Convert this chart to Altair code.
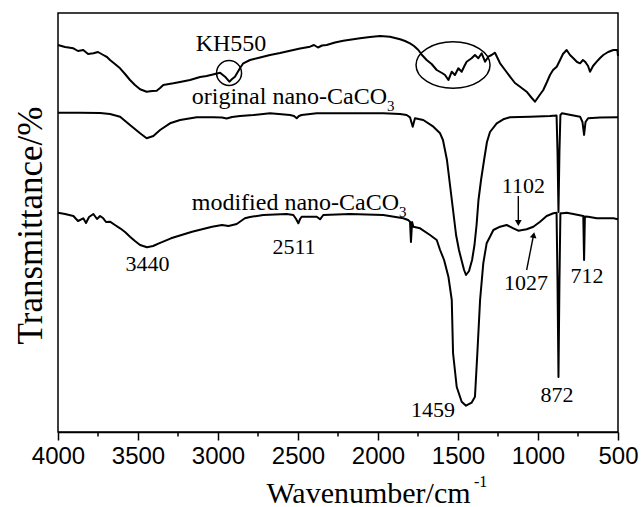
import altair as alt
import pandas as pd

# ---------------- data (wavenumber in cm-1, transmittance in a.u. with offsets) -------------
kh_wn = [4000,3956,3904,3875,3842,3812,3779,3750,3717,3694,
         3675,3644,3612,3581,3550,3519,3487,3446,3412,3383,
         3362,3342,3279,3237,3175,3112,3071,3019,2987,2956,
         2929,2912,2894,2862,2842,2800,2737,2675,2612,2550,
         2487,2425,2400,2375,2350,2321,2269,2217,2112,2050,
         1987,1925,1862,1831,1800,1775,1748,1725,1696,1665,
         1633,1600,1581,1560,1539,1519,1498,1477,1460,1446,
         1415,1394,1373,1352,1331,1310,1290,1269,1237,1206,
         1175,1144,1112,1071,1044,1019,994,967,944,925,
         906,883,862,844,821,800,779,756,737,719,
         706,687,675,656,633,612,592,562,529,504,
         500]
kh_t = [387,385,383.7,381,382,378,378.7,380,377,375,
        372,368,363.7,358,352,347,342.7,340.3,341,341.3,
        344,347,348.7,350,352,355,356,358,359.3,355.3,
        350.3,353,355.3,364,368.7,372,374.5,377,379,381.3,
        383.5,385.3,387,384.5,386.5,387,389.5,391.3,393.7,395,
        396,395.3,392.7,391,388.7,386,382,377,372,368,
        362,359,357,352,360.3,357,363.7,360.3,366,370.3,
        373.7,377,373.7,378.7,370.3,375.3,377,379.3,368.7,362,
        355.3,349,345.3,340.3,335,330.3,336,342,350,357,
        362,365.3,372,378,382,377,373.7,370,368.7,372,
        370.3,366,360.3,366,370.3,374,377,380,382,382,
        376]

orig_wn = [4000,3862,3737,3675,3612,3550,3487,3446,3404,3362,
           3300,3237,3133,3029,2975,2946,2912,2862,2779,2675,
           2550,2525,2508,2494,2477,2383,2175,1967,1862,1821,
           1800,1783,1769,1717,1654,1612,1594,1569,1550,1531,
           1512,1494,1475,1462,1450,1431,1412,1397,1384,1372,
           1356,1337,1319,1300,1258,1217,1175,1050,925,884,
           878,872,866,860,850,794,737,722,712,703,
           687,612,500]
orig_t = [319.3,319.3,319,318,315.3,307,298.7,293.7,296,302,
          308.7,312,314.7,314.7,314.5,313.5,315,316,317,318.7,
          317,316,313.7,316,317,318.7,318.7,318.7,318,317,
          314.7,305.3,313.7,312,305.3,298.7,292,272,247,222,
          197,182,170,162,157,161,172,187,207,232,
          252,272,290,300,308.7,312.7,314.7,315.3,316,316.5,
          280,220,280,317,318.7,317,315.3,310,297,310,
          313.7,314.5,314.7]

mod_wn = [4000,3956,3904,3875,3842,3825,3806,3779,3756,3737,
          3717,3700,3675,3644,3612,3581,3550,3519,3487,3444,
          3406,3369,3294,3162,3037,2975,2934,2883,2832,2800,
          2717,2571,2529,2512,2498,2487,2477,2383,2362,2342,
          2175,1967,1842,1812,1800,1794,1787,1779,1737,1675,
          1633,1612,1587,1560,1539,1531,1508,1477,1450,1415,
          1394,1379,1362,1342,1321,1300,1279,1237,1196,1154,
          1123,1071,1029,987,946,904,884,878,872,866,
          860,846,821,779,717,712,707,686,633,529,
          500]
mod_t = [219.3,218,216,211,213.7,209,215,218,213,216,
         213.7,210,210.3,207,203.7,200,195.3,191,187,184.7,
         186,188.7,193.7,200.3,205.3,207,206,208,213.7,215,
         217,218,217,213,208.7,213,215.3,215.3,212.7,217,
         218,217,213.7,212,210.3,190,210,205.3,203.7,197,
         192,182,172,155.3,132,79,45,30.3,26.3,29.3,
         35.3,79,132,168.7,188.7,195.3,202,205.3,207,203.7,
         201.3,202.7,205.3,210.3,216,218.7,219.3,150,55,150,
         218.7,218.7,219.3,218,216,172,215.5,215.3,213.7,213.7,
         212.7]

major_ticks = [4000, 3500, 3000, 2500, 2000, 1500, 1000, 500]
minor_ticks = [3750, 3250, 2750, 2250, 1750, 1250, 750]

# peak labels (centered)
peak_text = ["3440", "2511", "1102", "1027", "712", "872"]
peak_wn = [3440, 2525, 1091, 1075, 694, 881]
peak_t = [161, 178, 239, 142, 149, 30]
# right-aligned peak label
peak_r_text = ["1459"]
peak_r_wn = [1519]
peak_r_t = [15.5]
# sample names
name_text = ["original nano-CaCO", "modified nano-CaCO"]
name_wn = [3164, 3164]
name_t = [328, 222]
sub_text = ["3", "3"]
sub_wn = [1944, 1869]
sub_t = [321, 215]
kh_text = ["KH550"]
kh_lab_wn = [2919]
kh_lab_t = [381]

# arrows
arr_wn1 = [1123, 1071]
arr_t1 = [236, 162]
arr_wn2 = [1123, 1029]
arr_t2 = [212, 196]
head_wn = [1123, 1027]
head_t = [209, 197]
head_shape = ["triangle-down", "triangle-up"]
head_angle = [0, 11]

# circle and ellipse marking KH550 bands
circ_wn = [2931]
circ_t = [359]
ell_wn = [1531]
ell_t = [367]

# ---------------- build ----------------
rows = []
for name, wn, t in [("KH550", kh_wn, kh_t), ("original", orig_wn, orig_t), ("modified", mod_wn, mod_t)]:
    assert len(wn) == len(t), name
    for w, v in zip(wn, t):
        rows.append({"series": name, "wn": w, "t": v})
df = pd.DataFrame(rows)

W, H = 560, 419
xs = alt.Scale(domain=[4000, 500], nice=False, zero=False)
ys = alt.Scale(domain=[0, 419], nice=False, zero=False)

x_axis = alt.Axis(values=major_ticks, format="d", title="Wavenumber/cm", grid=False,
                  labelFont="Liberation Sans", labelFontSize=24, labelColor="black",
                  labelPadding=4, labelFlush=False, labelOverlap=False,
                  tickSize=8, tickWidth=1.5, tickColor="black",
                  domainColor="black", domainWidth=1.5,
                  titleFont="Liberation Serif", titleFontSize=30, titleFontWeight="normal",
                  titleColor="black", titleX=310, titleY=70, titleBaseline="alphabetic")
y_axis = alt.Axis(title="Transmittance/%", labels=False, ticks=False, domain=False, grid=False,
                  titleFont="Liberation Serif", titleFontSize=35, titleFontWeight="normal",
                  titleColor="black", titleX=-17, titleY=212, titleBaseline="alphabetic")

X = lambda f: alt.X(f, scale=xs, axis=x_axis)
Y = lambda f: alt.Y(f, scale=ys, axis=y_axis)

lines = alt.Chart(df).mark_line(color="black", strokeWidth=2, strokeJoin="round").encode(
    x=X("wn:Q"), y=Y("t:Q"), detail="series:N",
)

minor = alt.Chart(pd.DataFrame({"wn": minor_ticks})).mark_rule(color="black", strokeWidth=1.5).encode(
    x=X("wn:Q"), y=alt.value(H), y2=alt.value(H + 4.5))

txt = dict(font="Liberation Serif", color="black", baseline="alphabetic")
peaks = alt.Chart(pd.DataFrame({"wn": peak_wn, "t": peak_t, "s": peak_text})).mark_text(
    fontSize=22, align="center", **txt).encode(x=X("wn:Q"), y=Y("t:Q"), text="s:N")
peaks_r = alt.Chart(pd.DataFrame({"wn": peak_r_wn, "t": peak_r_t, "s": peak_r_text})).mark_text(
    fontSize=22, align="right", **txt).encode(x=X("wn:Q"), y=Y("t:Q"), text="s:N")
names = alt.Chart(pd.DataFrame({"wn": name_wn, "t": name_t, "s": name_text})).mark_text(
    fontSize=24, align="left", **txt).encode(x=X("wn:Q"), y=Y("t:Q"), text="s:N")
subs = alt.Chart(pd.DataFrame({"wn": sub_wn, "t": sub_t, "s": sub_text})).mark_text(
    fontSize=15, align="left", **txt).encode(x=X("wn:Q"), y=Y("t:Q"), text="s:N")
khl = alt.Chart(pd.DataFrame({"wn": kh_lab_wn, "t": kh_lab_t, "s": kh_text})).mark_text(
    fontSize=24, align="center", **txt).encode(x=X("wn:Q"), y=Y("t:Q"), text="s:N")

arrows = alt.Chart(pd.DataFrame({"x1": arr_wn1, "y1": arr_t1, "x2": arr_wn2, "y2": arr_t2})).mark_rule(
    color="black", strokeWidth=1.4).encode(x=X("x1:Q"), y=Y("y1:Q"), x2="x2:Q", y2="y2:Q")
heads = alt.layer(*[
    alt.Chart(pd.DataFrame({"wn": [head_wn[i]], "t": [head_t[i]]})).mark_point(
        shape=head_shape[i], angle=head_angle[i], size=45, filled=True, color="black", opacity=1
    ).encode(x=X("wn:Q"), y=Y("t:Q"))
    for i in range(len(head_wn))
])

circle = alt.Chart(pd.DataFrame({"wn": circ_wn, "t": circ_t})).mark_point(
    shape="circle", size=625, filled=False, color="black", strokeWidth=1.5, opacity=1
).encode(x=X("wn:Q"), y=Y("t:Q"))
ellipse = alt.Chart(pd.DataFrame({"wn": ell_wn, "t": ell_t})).mark_point(
    shape="M -1 0 A 1 0.63 0 1 1 1 0 A 1 0.63 0 1 1 -1 0 Z", size=5476, filled=False,
    color="black", strokeWidth=1.5, opacity=1
).encode(x=X("wn:Q"), y=Y("t:Q"))

sup = alt.Chart(pd.DataFrame({"s": ["-1"]})).mark_text(
    fontSize=16, align="left", **txt).encode(x=alt.value(416), y=alt.value(474), text="s:N")

chart = alt.layer(lines, minor, arrows, heads, circle, ellipse, peaks, peaks_r, names, subs, khl, sup).properties(
    width=W, height=H,
    padding={"left": 58, "top": 13, "right": 24, "bottom": 75},
    autosize=alt.AutoSizeParams(type="none"),
    background="white",
).configure_view(stroke="black", strokeWidth=1.5)

chart.save("out.html", embed_options={"renderer": "svg", "actions": False})
